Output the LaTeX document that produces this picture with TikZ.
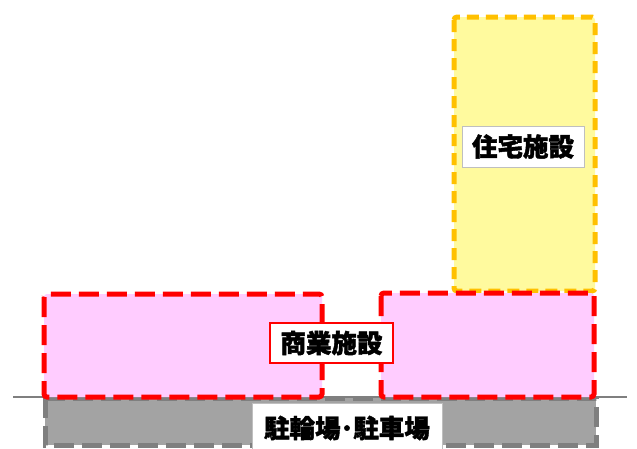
\documentclass[tikz,border=0pt]{standalone}
\usepackage{fontspec}
\newfontfamily\cjk{Noto Sans CJK JP Bold}[FakeBold=1.6]
\definecolor{ylwfill}{HTML}{FFFA9E}
\definecolor{ylwline}{HTML}{FFC000}
\definecolor{pnkfill}{HTML}{FFCCFF}
\definecolor{redline}{HTML}{FF0000}
\definecolor{gryfill}{HTML}{A3A3A3}
\definecolor{gryline}{HTML}{7F7F7F}
\tikzset{
  ylwbox/.style={fill=ylwfill, draw=ylwline, line width=5pt, dash pattern=on 12pt off 7pt, rounded corners=3pt},
  pnkbox/.style={fill=pnkfill, draw=redline, line width=5pt, dash pattern=on 20pt off 8pt, rounded corners=3pt},
  grybox/.style={fill=gryfill, draw=gryline, line width=5pt, dash pattern=on 20pt off 8pt},
  jtxt/.style={font=\cjk\bfseries\fontsize{25.5}{30}\selectfont, inner sep=0pt, text=black},
  lbl/.style={jtxt, fill=white},
}
\begin{document}
\begin{tikzpicture}[x=1pt,y=-1pt]
\useasboundingbox (0,0) rectangle (637,448);
\fill[white] (0,0) rectangle (637,448);
% ground line
\coordinate (gl) at (13,397);
\coordinate (gr) at (627,397);
\draw[gryline, line width=1.2pt] (gl) -- (gr);
% parking
\draw[grybox] (45,398) rectangle (596,445);
% housing
\draw[ylwbox] (454,17) rectangle (595,291);
% commercial
\draw[pnkbox] (44,294) rectangle (322,397);
\draw[pnkbox] (381,293) rectangle (594,397);
% labels
\node[lbl, draw=gray!50, line width=0.6pt, minimum width=122pt, minimum height=41pt] (house) at (523,146.5) {住宅施設};
\node[lbl, draw=redline, line width=1.2pt, minimum width=123pt, minimum height=40pt] (shop) at (331.5,343) {商業施設};
\node[fill=white, draw=gray!50, line width=0.6pt, minimum width=190pt, minimum height=52pt, anchor=north, inner sep=0pt] (park) at (347,403) {};
\node[jtxt] (parktxt) at (347,428) {駐輪場･駐車場};
\end{tikzpicture}
\end{document}
